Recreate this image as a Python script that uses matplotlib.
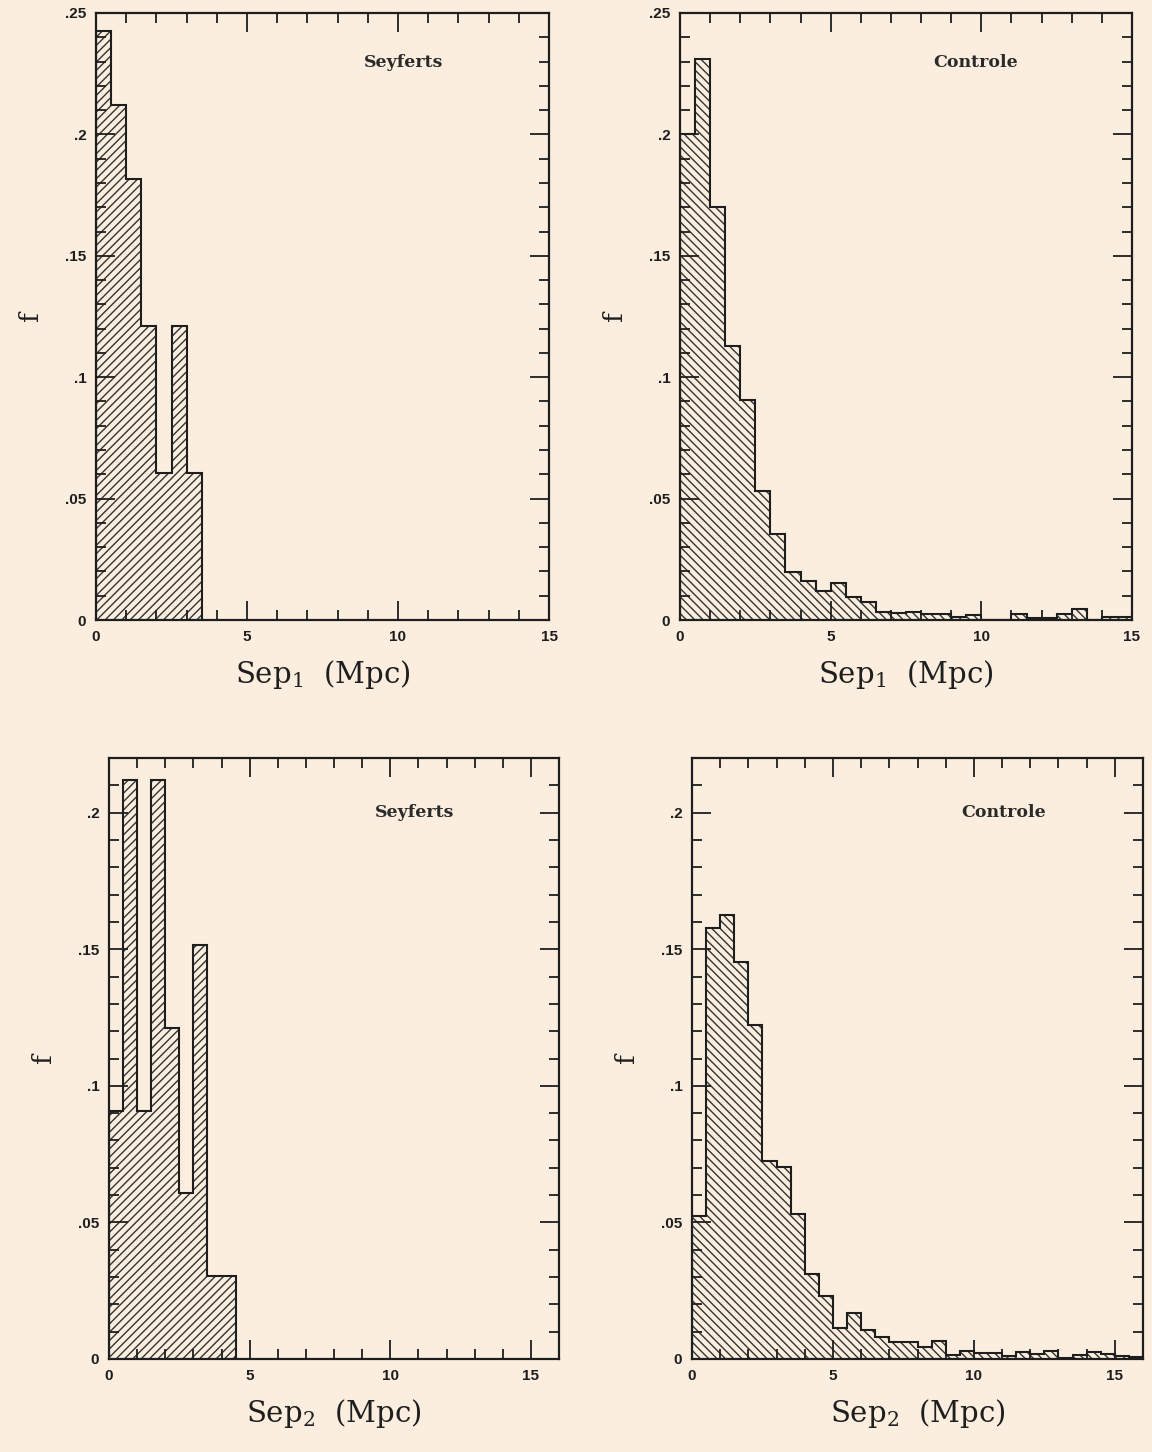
import numpy as np
import matplotlib
matplotlib.use('Agg')
import matplotlib.pyplot as plt
from matplotlib.ticker import MultipleLocator, FuncFormatter

# bin edges: 0.5 Mpc bins
edges_15 = np.arange(0, 15.01, 0.5)
edges_16 = np.arange(0, 16.01, 0.5)

# Sep1 fractions (Seyferts, 33 objects)
sey_sep1 = [8/33, 7/33, 6/33, 4/33, 2/33, 4/33, 2/33]

# Sep1 fractions (control sample)
ctl_sep1 = [0.200, 0.231, 0.170, 0.113, 0.0908, 0.053, 0.0353, 0.0197, 0.0159, 0.0118,
            0.0152, 0.0094, 0.0076, 0.0034, 0.0030, 0.0034, 0.0025, 0.0025, 0.0014, 0.0020,
            0.0, 0.0, 0.0025, 0.0010, 0.0010, 0.0025, 0.0044, 0.0, 0.0012, 0.0012]

# Sep2 fractions (Seyferts)
sey_sep2 = [3/33, 7/33, 3/33, 7/33, 4/33, 2/33, 5/33, 1/33, 1/33]

# Sep2 fractions (control sample)
ctl_sep2 = [0.0524, 0.1576, 0.1624, 0.1455, 0.1223, 0.0723, 0.0704, 0.0531, 0.031, 0.0232,
            0.0112, 0.0168, 0.0105, 0.0082, 0.0064, 0.0064, 0.0044, 0.0065, 0.0016, 0.0029,
            0.0021, 0.0021, 0.0010, 0.0025, 0.0019, 0.0031, 0.0005, 0.0016, 0.0025, 0.0019,
            0.0010, 0.0009]

bg = '#FBEEDE'
ink = '#1e1e1e'

plt.rcParams['mathtext.fontset'] = 'dejavuserif'
plt.rcParams['hatch.linewidth'] = 1.0

W, H = 1152, 1452
fig = plt.figure(figsize=(W / 100, H / 100), dpi=100, facecolor=bg)


def px_axes(left, top, right, bottom):
    return fig.add_axes([left / W, 1 - bottom / H, (right - left) / W, (bottom - top) / H])


def yfmt(v, pos):
    if abs(v) < 1e-9:
        return '0'
    return f'{v:.2f}'.rstrip('0').lstrip('0')


def panel(ax, values, edges, hatch, label, xlabel, xmax, ymax, lab_xy):
    ax.set_facecolor(bg)
    n = len(values)
    e = edges[:n + 1]
    ax.bar(e[:-1], values, width=np.diff(e), align='edge', color='none',
           edgecolor='#333333', linewidth=0, hatch=hatch, zorder=1)
    ax.stairs(values, e, color=ink, linewidth=1.5, zorder=2)
    ax.set_xlim(0, xmax)
    ax.set_ylim(0, ymax)
    ax.xaxis.set_major_locator(MultipleLocator(5))
    ax.xaxis.set_minor_locator(MultipleLocator(1))
    ax.yaxis.set_major_locator(MultipleLocator(0.05))
    ax.yaxis.set_minor_locator(MultipleLocator(0.01))
    ax.yaxis.set_major_formatter(FuncFormatter(yfmt))
    ax.tick_params(which='both', direction='in', top=True, right=True,
                   color=ink, width=1.3, labelsize=11, labelcolor=ink, pad=7)
    ax.tick_params(which='major', length=14)
    ax.tick_params(which='minor', length=7)
    for t in ax.get_xticklabels() + ax.get_yticklabels():
        t.set_fontfamily('Liberation Sans')
        t.set_fontweight('bold')
    ax.set_axisbelow(False)
    for s in ax.spines.values():
        s.set_linewidth(1.6)
        s.set_color(ink)
        s.set_zorder(3)
    ax.text(lab_xy[0], lab_xy[1], label, transform=ax.transAxes, ha='center', va='center',
            fontsize=12.5, family='DejaVu Serif', fontweight='bold', color='#2a2a2a')
    ax.set_xlabel(xlabel, fontsize=21, family='DejaVu Serif', color=ink, labelpad=10)
    ax.set_ylabel('f', fontsize=19, family='DejaVu Serif', color=ink, labelpad=16)


ax1 = px_axes(96, 13, 549, 620)
panel(ax1, sey_sep1, edges_15, '////', 'Seyferts', 'Sep$_1$  (Mpc)', 15, 0.25, (0.68, 0.919))

ax2 = px_axes(680, 13, 1132, 620)
panel(ax2, ctl_sep1, edges_15, '\\\\\\\\', 'Controle', 'Sep$_1$  (Mpc)', 15, 0.25, (0.655, 0.919))

ax3 = px_axes(109, 758, 559, 1359)
panel(ax3, sey_sep2, edges_16, '////', 'Seyferts', 'Sep$_2$  (Mpc)', 16, 0.22, (0.68, 0.91))

ax4 = px_axes(692, 758, 1143, 1359)
panel(ax4, ctl_sep2, edges_16, '\\\\\\\\', 'Controle', 'Sep$_2$  (Mpc)', 16, 0.22, (0.69, 0.91))

fig.savefig('out.png', dpi=100, facecolor=bg)
